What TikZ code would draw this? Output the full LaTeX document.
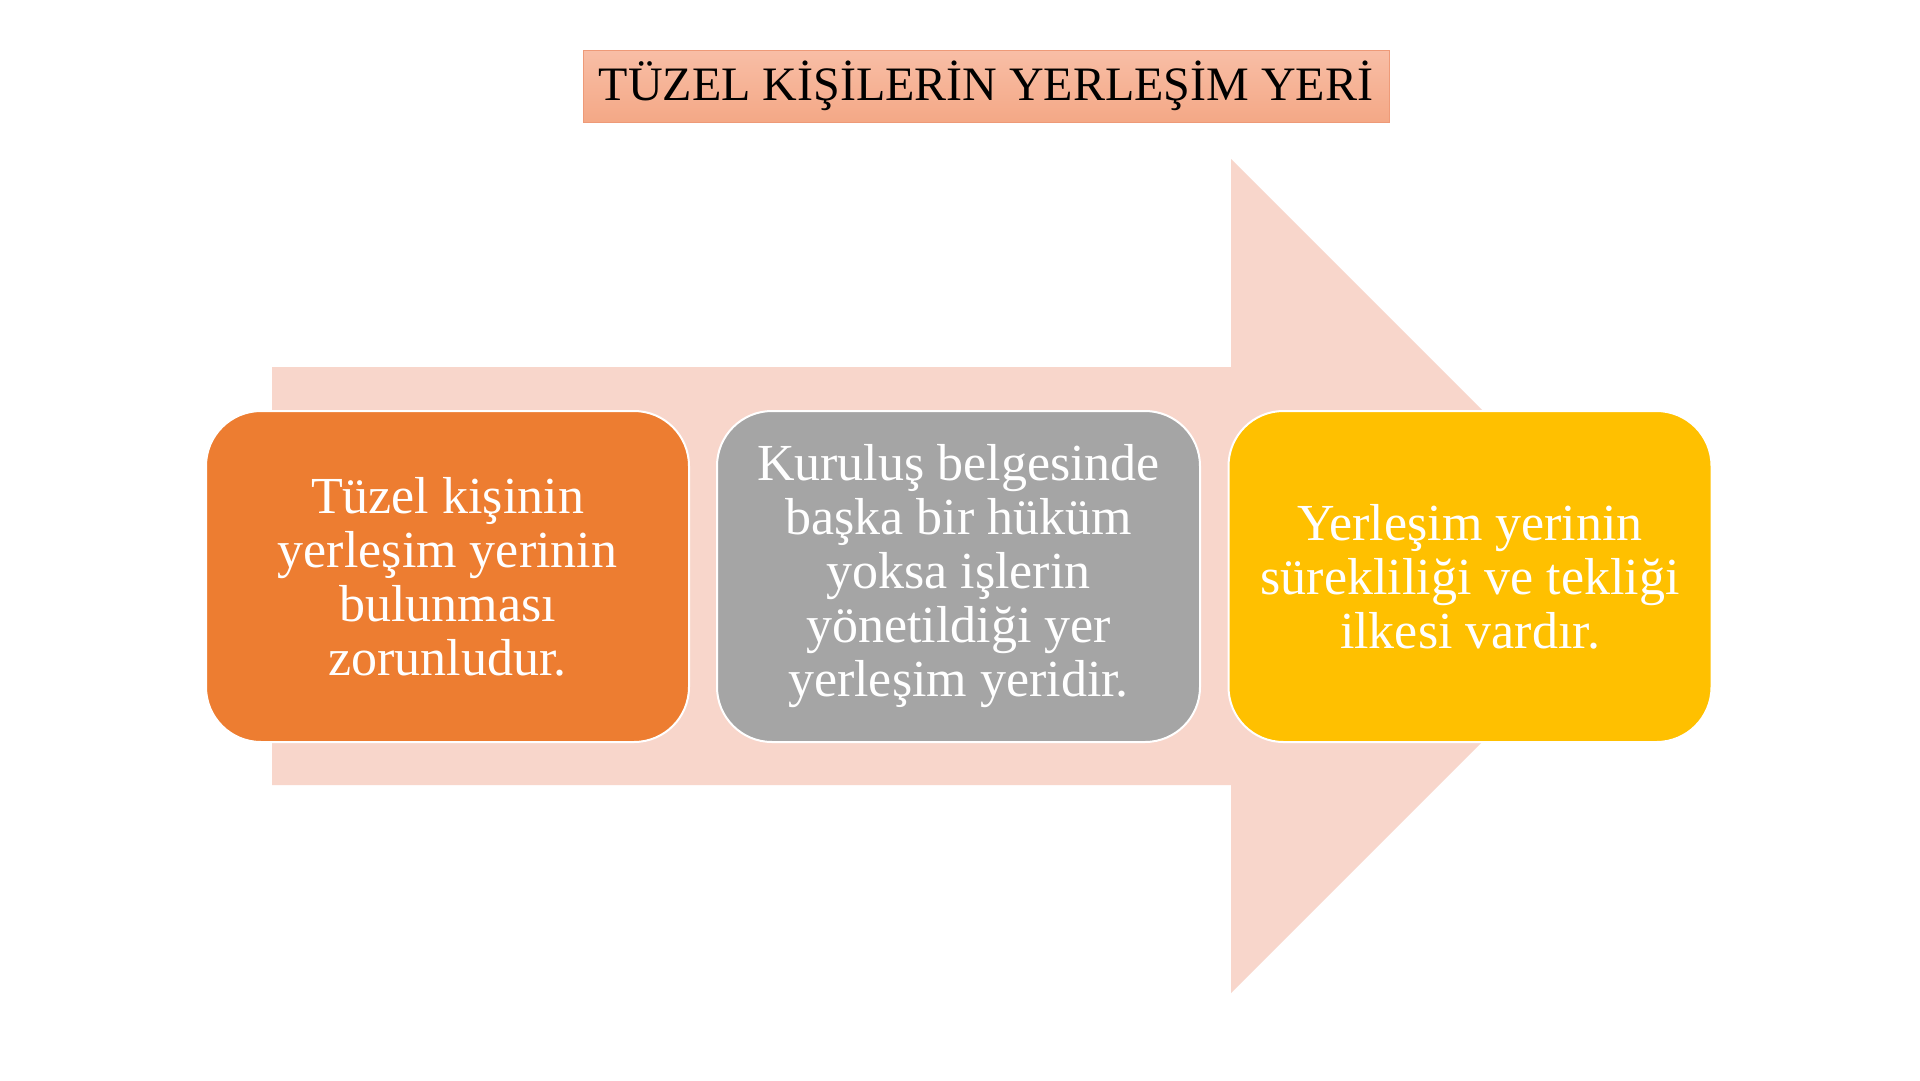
\documentclass[tikz,border=0pt]{standalone}
\usepackage{fontspec}
\setmainfont{Liberation Serif}
\definecolor{arrowpink}{HTML}{F8D6CB}
\definecolor{boxorange}{HTML}{ED7D31}
\definecolor{boxgray}{HTML}{A5A5A5}
\definecolor{boxyellow}{HTML}{FFC000}
\definecolor{titletop}{HTML}{F8BEA6}
\definecolor{titlebot}{HTML}{F4A886}
\definecolor{titleedge}{HTML}{EE9A78}
\begin{document}
\begin{tikzpicture}[x=1pt,y=-1pt,
  card/.style={rounded corners=55pt, draw=white, line width=2pt,
    minimum width=483pt, minimum height=331pt, text=white,
    align=center, font=\fontsize{52}{54}\selectfont, inner sep=0pt},
  titlebox/.style={draw=titleedge, line width=1pt, top color=titletop, bottom color=titlebot,
    minimum width=806pt, minimum height=72pt, inner sep=0pt,
    font=\fontsize{48}{52}\selectfont}]
\useasboundingbox (0,0) rectangle (1920,1080);
\fill[white] (0,0) rectangle (1920,1080);
% big arrow
\fill[arrowpink] (272,367) -- (1231,367) -- (1231,159) -- (1648,576)
  -- (1231,993) -- (1231,785) -- (272,785) -- cycle;
% title
\node[titlebox] (title) at (986,86) {TÜZEL KİŞİLERİN YERLEŞİM YERİ};
% cards
\node[card, fill=boxorange] (c1) at (447.5,576.5)
  {Tüzel kişinin\\yerleşim yerinin\\bulunması\\zorunludur.};
\node[card, fill=boxgray] (c2) at (958.5,576.5)
  {Kuruluş belgesinde\\başka bir hüküm\\yoksa işlerin\\yönetildiği yer\\yerleşim yeridir.};
\node[card, fill=boxyellow] (c3) at (1470,576.5)
  {Yerleşim yerinin\\sürekliliği ve tekliği\\ilkesi vardır.};
\end{tikzpicture}
\end{document}
